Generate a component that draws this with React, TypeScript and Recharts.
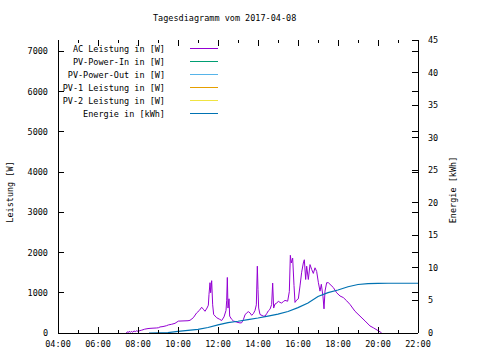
import { LineChart, Line, XAxis, YAxis, Legend } from "recharts";

const FONT = "'DejaVu Sans Mono', monospace";

// AC Leistung in [W]
const acTimes = [
  "07:25", "07:28", "07:31", "07:34", "07:37", "07:40", "07:44", "07:48", "07:52", "07:56",
  "08:00", "08:06", "08:11", "08:20", "08:30", "08:36", "08:45", "08:55", "09:01", "09:06",
  "09:15", "09:25", "09:31", "09:40", "09:51", "10:01", "10:15", "10:30", "10:36", "10:46",
  "10:56", "11:04", "11:11", "11:16", "11:21", "11:27", "11:31", "11:33", "11:36", "11:38",
  "11:41", "11:44", "11:47", "11:56", "12:05", "12:11", "12:18", "12:24", "12:26", "12:28",
  "12:30", "12:33", "12:35", "12:41", "12:46", "12:56", "13:06", "13:11", "13:16", "13:21",
  "13:26", "13:31", "13:36", "13:41", "13:46", "13:51", "13:55", "13:58", "14:00", "14:02",
  "14:06", "14:16", "14:21", "14:26", "14:31", "14:36", "14:41", "14:44", "14:47", "14:51",
  "14:56", "15:01", "15:06", "15:11", "15:16", "15:21", "15:29", "15:34", "15:37", "15:40",
  "15:44", "15:48", "15:51", "15:56", "16:01", "16:06", "16:11", "16:16", "16:19", "16:23",
  "16:26", "16:31", "16:36", "16:41", "16:46", "16:51", "16:56", "17:01", "17:06", "17:10",
  "17:15", "17:18", "17:21", "17:26", "17:31", "17:36", "17:46", "17:56", "18:06", "18:16",
  "18:26", "18:36", "18:51", "19:06", "19:21", "19:36", "19:46", "19:51", "20:01", "20:06",
  "20:11",
];
const acWatts = [
  0, 30, 10, 45, 15, 40, 20, 50, 35, 55,
  40, 60, 70, 95, 110, 115, 120, 125, 130, 150,
  160, 180, 200, 215, 240, 295, 300, 305, 315, 380,
  500, 560, 640, 590, 540, 620, 690, 960, 1250, 1000,
  1300, 700, 460, 380, 340, 310, 400, 560, 800, 1380,
  620, 850, 420, 340, 300, 270, 250, 255, 330, 450,
  500, 530, 500, 440, 480, 560, 700, 1660, 1080, 620,
  460, 420, 420, 480, 550, 590, 710, 1240, 620, 720,
  740, 790, 760, 745, 780, 810, 790, 1030, 1930, 1740,
  1860, 1180, 760, 820, 850, 1170, 1510, 1740, 1820, 1330,
  1660, 1330, 1700, 1580, 1480, 1620, 1530, 1260, 1040, 1210,
  900, 600, 1040, 1250, 1250, 1210, 1130, 1000, 920, 880,
  800, 710, 540, 420, 300, 175, 130, 105, 55, 30,
  0,
];

// Energie in [kWh]
const energyTimes = [
  "08:33", "09:30", "10:00", "10:30", "11:00", "11:30", "12:00", "12:30", "13:00", "13:30",
  "14:00", "14:30", "15:00", "15:30", "16:00", "16:30", "17:00", "17:30", "18:00", "18:30",
  "19:00", "19:30", "20:00", "20:30", "22:00",
];
const energyKwh = [
  0, 0.05, 0.25, 0.4, 0.55, 0.85, 1.25, 1.6, 1.8, 2.05,
  2.3, 2.6, 2.9, 3.3, 3.9, 4.6, 5.6, 6.2, 6.6, 7.1,
  7.45, 7.58, 7.62, 7.64, 7.64,
];

const hourTicks = [4, 5, 6, 7, 8, 9, 10, 11, 12, 13, 14, 15, 16, 17, 18, 19, 20, 21, 22];
const wattTicks = [0, 1000, 2000, 3000, 4000, 5000, 6000, 7000];
const kwhTicks = [0, 5, 10, 15, 20, 25, 30, 35, 40, 45];

const seriesNames = [
  "AC Leistung in [W]",
  "PV-Power-In in [W]",
  "PV-Power-Out in [W]",
  "PV-1 Leistung in [W]",
  "PV-2 Leistung in [W]",
  "Energie in [kWh]",
];
const seriesColors = ["#9400d3", "#009e73", "#56b4e9", "#e69f00", "#f0e442", "#0072b2"];

const toHours = (t: string) => {
  const [h, m] = t.split(":").map(Number);
  return h + m / 60;
};

const acData = acTimes.map((t, i) => ({ t: toHours(t), v: acWatts[i] }));
const energyData = energyTimes.map((t, i) => ({ t: toHours(t), v: energyKwh[i] }));

const PLOT_W = 360;
const PLOT_H = 293;

const txt = { fontFamily: FONT, fontSize: 8.5, fill: "#000" };

function BottomTick(props: any) {
  const { x, y, payload } = props;
  const major = payload.value % 2 === 0;
  const len = major ? 6 : 3;
  return (
    <g shapeRendering="crispEdges">
      <line x1={x} y1={y} x2={x} y2={y - len} stroke="#000" />
      <line x1={x} y1={y - PLOT_H} x2={x} y2={y - PLOT_H + len} stroke="#000" />
      {major && (
        <text x={x} y={y + 14} textAnchor="middle" {...txt}>
          {String(payload.value).padStart(2, "0") + ":00"}
        </text>
      )}
    </g>
  );
}

function LeftTick(props: any) {
  const { x, y, payload } = props;
  return (
    <g shapeRendering="crispEdges">
      <line x1={x} y1={y} x2={x + 6} y2={y} stroke="#000" />
      <line x1={x + PLOT_W} y1={y} x2={x + PLOT_W - 6} y2={y} stroke="#000" />
      <text x={x - 10} y={y + 3} textAnchor="end" {...txt}>
        {payload.value}
      </text>
    </g>
  );
}

function RightTick(props: any) {
  const { x, y, payload } = props;
  return (
    <g shapeRendering="crispEdges">
      <line x1={x} y1={y} x2={x - 6} y2={y} stroke="#000" />
      <text x={x + 10} y={y + 3} textAnchor="start" {...txt}>
        {payload.value}
      </text>
    </g>
  );
}

// legend in the fixed gnuplot order
function LegendBox() {
  return (
    <div style={{ fontFamily: FONT, fontSize: 8.5, color: "#000" }}>
      {seriesNames.map((name, i) => (
        <div key={name} style={{ display: "flex", alignItems: "center", height: 13 }}>
          <span style={{ width: 105, textAlign: "right", whiteSpace: "pre" }}>{name}</span>
          <span style={{ marginLeft: 25, width: 28, height: 0, borderTop: `1px solid ${seriesColors[i]}` }} />
        </div>
      ))}
    </div>
  );
}

export default function App() {
  const axisLine = { stroke: "#000", shapeRendering: "crispEdges" };
  return (
    <div style={{ position: "absolute", left: 0, top: 0, width: 480, height: 360, background: "#fff" }}>
      <div
        style={{
          position: "absolute", left: 153, top: 13, fontFamily: FONT, fontSize: 8.5,
          lineHeight: "10px", whiteSpace: "pre",
        }}
      >
        Tagesdiagramm vom 2017-04-08
      </div>
      <div
        style={{
          position: "absolute", left: 10, top: 192, fontFamily: FONT, fontSize: 8.5,
          whiteSpace: "pre", transform: "translate(-50%, -50%) rotate(-90deg)",
        }}
      >
        Leistung [W]
      </div>
      <div
        style={{
          position: "absolute", left: 453, top: 190, fontFamily: FONT, fontSize: 8.5,
          whiteSpace: "pre", transform: "translate(-50%, -50%) rotate(-90deg)",
        }}
      >
        Energie [kWh]
      </div>

      <LineChart width={480} height={360} margin={{ top: 40, right: 0, bottom: 0, left: 0 }}>
        <XAxis
          xAxisId="x"
          dataKey="t"
          type="number"
          domain={[4, 22]}
          ticks={hourTicks}
          interval={0}
          allowDataOverflow
          height={27}
          tickSize={0}
          tickMargin={0}
          tickLine={false}
          axisLine={axisLine}
          tick={<BottomTick />}
        />
        <XAxis
          xAxisId="top"
          orientation="top"
          type="number"
          domain={[4, 22]}
          ticks={[]}
          height={0}
          tickLine={false}
          tick={false}
          axisLine={axisLine}
        />
        <YAxis
          yAxisId="w"
          orientation="left"
          type="number"
          domain={[0, 7280]}
          ticks={wattTicks}
          interval={0}
          width={58}
          tickSize={0}
          tickMargin={0}
          tickLine={false}
          axisLine={axisLine}
          tick={<LeftTick />}
        />
        <YAxis
          yAxisId="e"
          orientation="right"
          type="number"
          domain={[0, 45]}
          ticks={kwhTicks}
          interval={0}
          width={62}
          tickSize={0}
          tickMargin={0}
          tickLine={false}
          axisLine={axisLine}
          tick={<RightTick />}
        />
        <Legend
          layout="vertical"
          align="center"
          verticalAlign="middle"
          wrapperStyle={{ top: 42, left: 60, width: 170 }}
          content={<LegendBox />}
        />
        <Line
          data={acData}
          dataKey="v"
          xAxisId="x"
          yAxisId="w"
          name={seriesNames[0]}
          stroke={seriesColors[0]}
          strokeWidth={1}
          dot={false}
          isAnimationActive={false}
        />
        {[1, 2, 3, 4].map((i) => (
          <Line
            key={i}
            data={[]}
            dataKey="v"
            xAxisId="x"
            yAxisId="w"
            name={seriesNames[i]}
            stroke={seriesColors[i]}
            strokeWidth={1}
            dot={false}
            isAnimationActive={false}
          />
        ))}
        <Line
          data={energyData}
          dataKey="v"
          xAxisId="x"
          yAxisId="e"
          name={seriesNames[5]}
          stroke={seriesColors[5]}
          strokeWidth={1.2}
          dot={false}
          isAnimationActive={false}
        />
      </LineChart>
    </div>
  );
}
